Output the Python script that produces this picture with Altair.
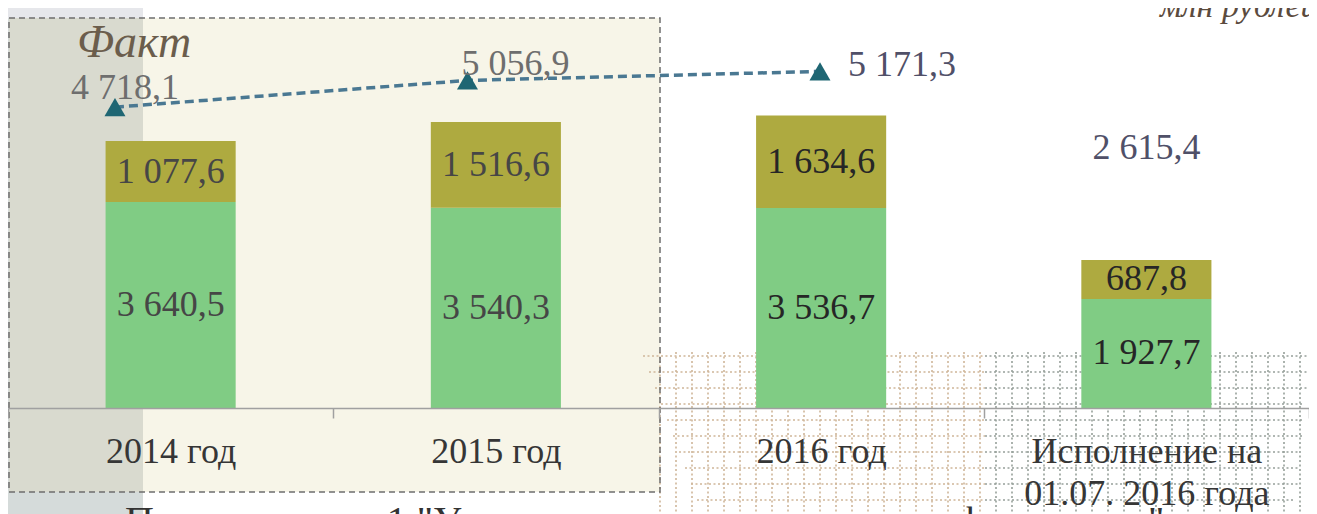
import altair as alt
import pandas as pd

# ---------------- data ----------------
categories = ["2014 год", "2015 год", "2016 год", "Исполнение на|01.07. 2016 года"]
series_names = ["Подпрограмма 1", "Подпрограмма 2"]
bottom_values = [3640.5, 3540.3, 3536.7, 1927.7]
top_values = [1077.6, 1516.6, 1634.6, 687.8]
total_values = [4718.1, 5056.9, 5171.3, 2615.4]
line_categories = categories[:3]
line_values = total_values[:3]


def fmt(v):
    return f"{v:,.1f}".replace(",", " ").replace(".", ",")


rows = []
for i, c in enumerate(categories):
    rows.append(dict(category=c, series=series_names[0], value=bottom_values[i], order=0,
                     label=fmt(bottom_values[i])))
    rows.append(dict(category=c, series=series_names[1], value=top_values[i], order=1,
                     label=fmt(top_values[i])))
bar_df = pd.DataFrame(rows)
tot_df = pd.DataFrame({"category": categories, "total": total_values,
                       "label": [fmt(v) for v in total_values]})
line_df = pd.DataFrame({"category": line_categories, "value": line_values,
                        "label": [fmt(v) for v in line_values]})

W, H = 1301, 400
FONT = "Liberation Serif"
one = pd.DataFrame({"a": [0]})

# ---------------- decorations ----------------
outer_panel = alt.Chart(one).mark_rect(color="#D5DBDA").encode(
    x=alt.value(0), x2=alt.value(135), y=alt.value(0), y2=alt.value(506))
beige = alt.Chart(one).mark_rect(color="#F7F5E8").encode(
    x=alt.value(1), x2=alt.value(652), y=alt.value(10), y2=alt.value(484))
inner_panel = alt.Chart(one).mark_rect(color="#D9DACF").encode(
    x=alt.value(1), x2=alt.value(135), y=alt.value(10), y2=alt.value(484))
top_left = alt.Chart(one).mark_rect(color="#E6E7EB").encode(
    x=alt.value(0), x2=alt.value(135), y=alt.value(0), y2=alt.value(10))
border = alt.Chart(one).mark_rect(fill=None, filled=False, stroke="#6E6E6E",
                                  strokeDash=[6, 4], strokeWidth=1.5).encode(
    x=alt.value(1), x2=alt.value(652), y=alt.value(10), y2=alt.value(484))

grid_rows = []
for k in range(10):
    yy = 348 + 16 * k
    grid_rows.append(dict(x=635 + 6 * k, x2=977, y=yy, y2=yy, col="#CFB699"))
    grid_rows.append(dict(x=977, x2=1300 - (k // 3) * 5, y=yy, y2=yy, col="#97A09A"))
xx = 652
while xx <= 1296:
    grid_rows.append(dict(x=xx, x2=xx, y=344, y2=506,
                          col="#CFB699" if xx < 977 else "#97A09A"))
    xx += 16
grid_df = pd.DataFrame(grid_rows)
grid = alt.Chart(grid_df).mark_rule(strokeDash=[2, 2.5], strokeWidth=1.6).encode(
    x=alt.X("x:Q", scale=None), x2="x2:Q",
    y=alt.Y("y:Q", scale=None), y2="y2:Q",
    color=alt.Color("col:N", scale=None))

fakt = alt.Chart(one).mark_text(text="Факт", font=FONT, fontStyle="italic", fontSize=46,
                                color="#6B5D4C", align="left", baseline="alphabetic").encode(
    x=alt.value(69), y=alt.value(49))
unit = alt.Chart(one).mark_text(text="млн рублей", font=FONT, fontStyle="italic", fontSize=34,
                                color="#5B4B3E", align="left", baseline="alphabetic").encode(
    x=alt.value(1152), y=alt.value(9))
bottom_txt = alt.Chart(one).mark_text(
    text="Подпрограмма 1 \"Управление муниципальными финансами\"", font=FONT,
    fontSize=40, color="#333333", align="left", baseline="top").encode(
    x=alt.value(117), y=alt.value(494))

# ---------------- bars ----------------
X = alt.X("category:N", sort=categories,
          scale=alt.Scale(paddingInner=0, paddingOuter=0),
          axis=alt.Axis(title=None, labelExpr="split(datum.label, '|')", labelFont=FONT,
                        labelFontSize=36, labelColor="#363636", labelPadding=16,
                        labelLineHeight=42, labelAngle=0, labelLimit=500, labelOverlap=False,
                        tickSize=10, tickBand="extent", tickColor="#A0A0A0", tickWidth=1.5,
                        domainColor="#A0A0A0", domainWidth=1.5, zindex=1))

base = alt.Chart(bar_df).transform_stack(
    stack="value", groupby=["category"], as_=["y0", "y1"], sort=[alt.SortField("order")]
).transform_calculate(mid="(datum.y0 + datum.y1) / 2")

bars = base.mark_bar(width=alt.RelativeBandSize(0.4)).encode(
    x=X,
    y=alt.Y("y0:Q", scale=alt.Scale(domain=[0, 7070], nice=False, zero=True), axis=None),
    y2="y1:Q",
    color=alt.Color("series:N", scale=alt.Scale(domain=series_names,
                                                range=["#80CC84", "#AEAA40"]), legend=None))

bar_text = base.mark_text(font=FONT, fontSize=36, baseline="middle").encode(
    x=X, y=alt.Y("mid:Q"), text="label:N",
    color=alt.condition("indexof(['2014 год', '2015 год'], datum.category) >= 0",
                        alt.value("#464646"), alt.value("#262626")))

total_text = alt.Chart(tot_df).transform_filter(
    alt.datum.category == categories[3]
).mark_text(font=FONT, fontSize=36, color="#505068", dy=-112, baseline="middle").encode(
    x=X, y=alt.Y("total:Q"), text="label:N")

bar_layer = alt.layer(bars, bar_text, total_text)

# ---------------- line ----------------
LX = alt.X("category:N", sort=line_categories,
           scale=alt.Scale(type="point", padding=0.8454, align=0.1795), axis=None)
LY = alt.Y("value:Q", scale=alt.Scale(domain=[905, 5975], zero=False, nice=False), axis=None)

line = alt.Chart(line_df).mark_line(strokeDash=[9, 5], strokeWidth=3.5, color="#4A7892").encode(
    x=LX, y=LY)
pts = alt.Chart(line_df).mark_point(shape="triangle-up", filled=True, size=440, opacity=1,
                                    color="#1F6673").encode(x=LX, y=LY)

label_specs = [
    (line_categories[0], 10, -19, "center", "#6E6E6E"),
    (line_categories[1], 48, -16, "center", "#6E6E6E"),
    (line_categories[2], 28, -6, "left", "#505068"),
]
line_labels = []
for cat, dx, dy, al, col in label_specs:
    line_labels.append(
        alt.Chart(line_df).transform_filter(alt.datum.category == cat).mark_text(
            font=FONT, fontSize=36, color=col, dx=dx, dy=dy, align=al, baseline="middle"
        ).encode(x=LX, y=LY, text="label:N"))

line_layer = alt.layer(line, pts, *line_labels)

chart = alt.layer(
    outer_panel, top_left, beige, inner_panel, grid, border, fakt, unit, bottom_txt,
    bar_layer, line_layer
).resolve_scale(x="independent", y="independent").properties(
    width=W, height=H,
    padding={"left": 0, "top": 0, "right": 0, "bottom": 106},
    autosize=alt.AutoSizeParams(type="none"),
).configure_view(stroke=None)

chart.save("out.html", embed_options={"renderer": "svg", "actions": False})
